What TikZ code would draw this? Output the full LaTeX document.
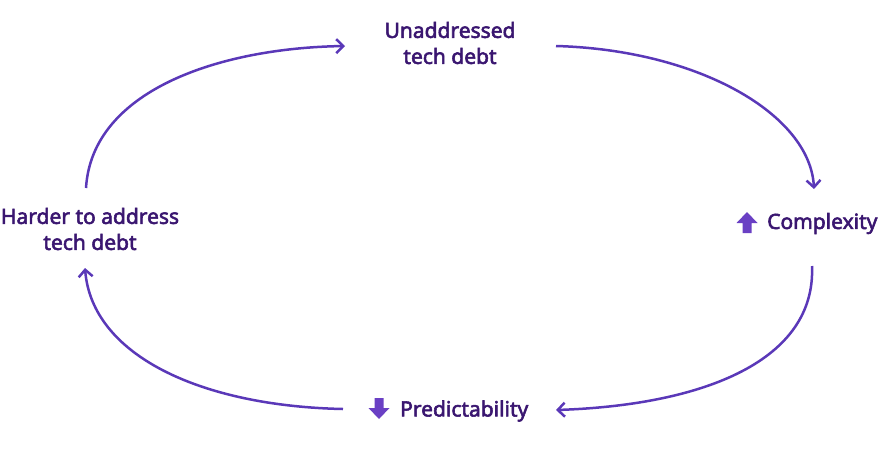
\documentclass[tikz,border=0pt]{standalone}
\usepackage{fontspec}
\newfontfamily\lblfont{Noto Sans}[FakeBold=2.6]
\usetikzlibrary{arrows.meta}
\definecolor{txt}{HTML}{3A1670}
\definecolor{arc}{HTML}{5A38B8}
\definecolor{ico}{HTML}{6A40C4}
\tikzset{
  lbl/.style={text=txt, font=\lblfont\fontsize{21}{26}\selectfont, align=center, inner sep=0pt},
  loop/.style={draw=arc, line width=2.5pt, -{Straight Barb[length=7pt,width=14pt,line width=2.5pt]}},
}
\begin{document}
\begin{tikzpicture}[x=1pt,y=-1pt]
\useasboundingbox (0,0) rectangle (880,456);
\node[lbl] (top) at (450,43) {Unaddressed\\tech debt};
\node[lbl, anchor=west] (cx) at (767,223.5) {Complexity};
\node[lbl, anchor=west] (pr) at (400,411) {Predictability};
\node[lbl] (hd) at (90,229) {Harder to address\\tech debt};
% icons
\fill[ico] (747,212) -- (757.5,223) -- (751.5,223) -- (751.5,233) -- (742.5,233) -- (742.5,223) -- (736.5,223) -- cycle;
\fill[ico] (379,419) -- (389.5,408) -- (383.5,408) -- (383.5,398) -- (374.5,398) -- (374.5,408) -- (368.5,408) -- cycle;
% connector endpoints
\coordinate (a1) at (556,46);
\coordinate (a2) at (814,189);
\coordinate (b1) at (812,266);
\coordinate (b2) at (556,410);
\coordinate (c1) at (343,409);
\coordinate (c2) at (85,268);
\coordinate (d1) at (86,188);
\coordinate (d2) at (345,46);
\draw[loop] (a1) .. controls (700,50) and (810,115) .. (a2);
\draw[loop] (b1) .. controls (816,360) and (705,405) .. (b2);
\draw[loop] (c1) .. controls (200,406) and (92,355) .. (c2);
\draw[loop] (d1) .. controls (92,90) and (220,48) .. (d2);
\end{tikzpicture}
\end{document}
